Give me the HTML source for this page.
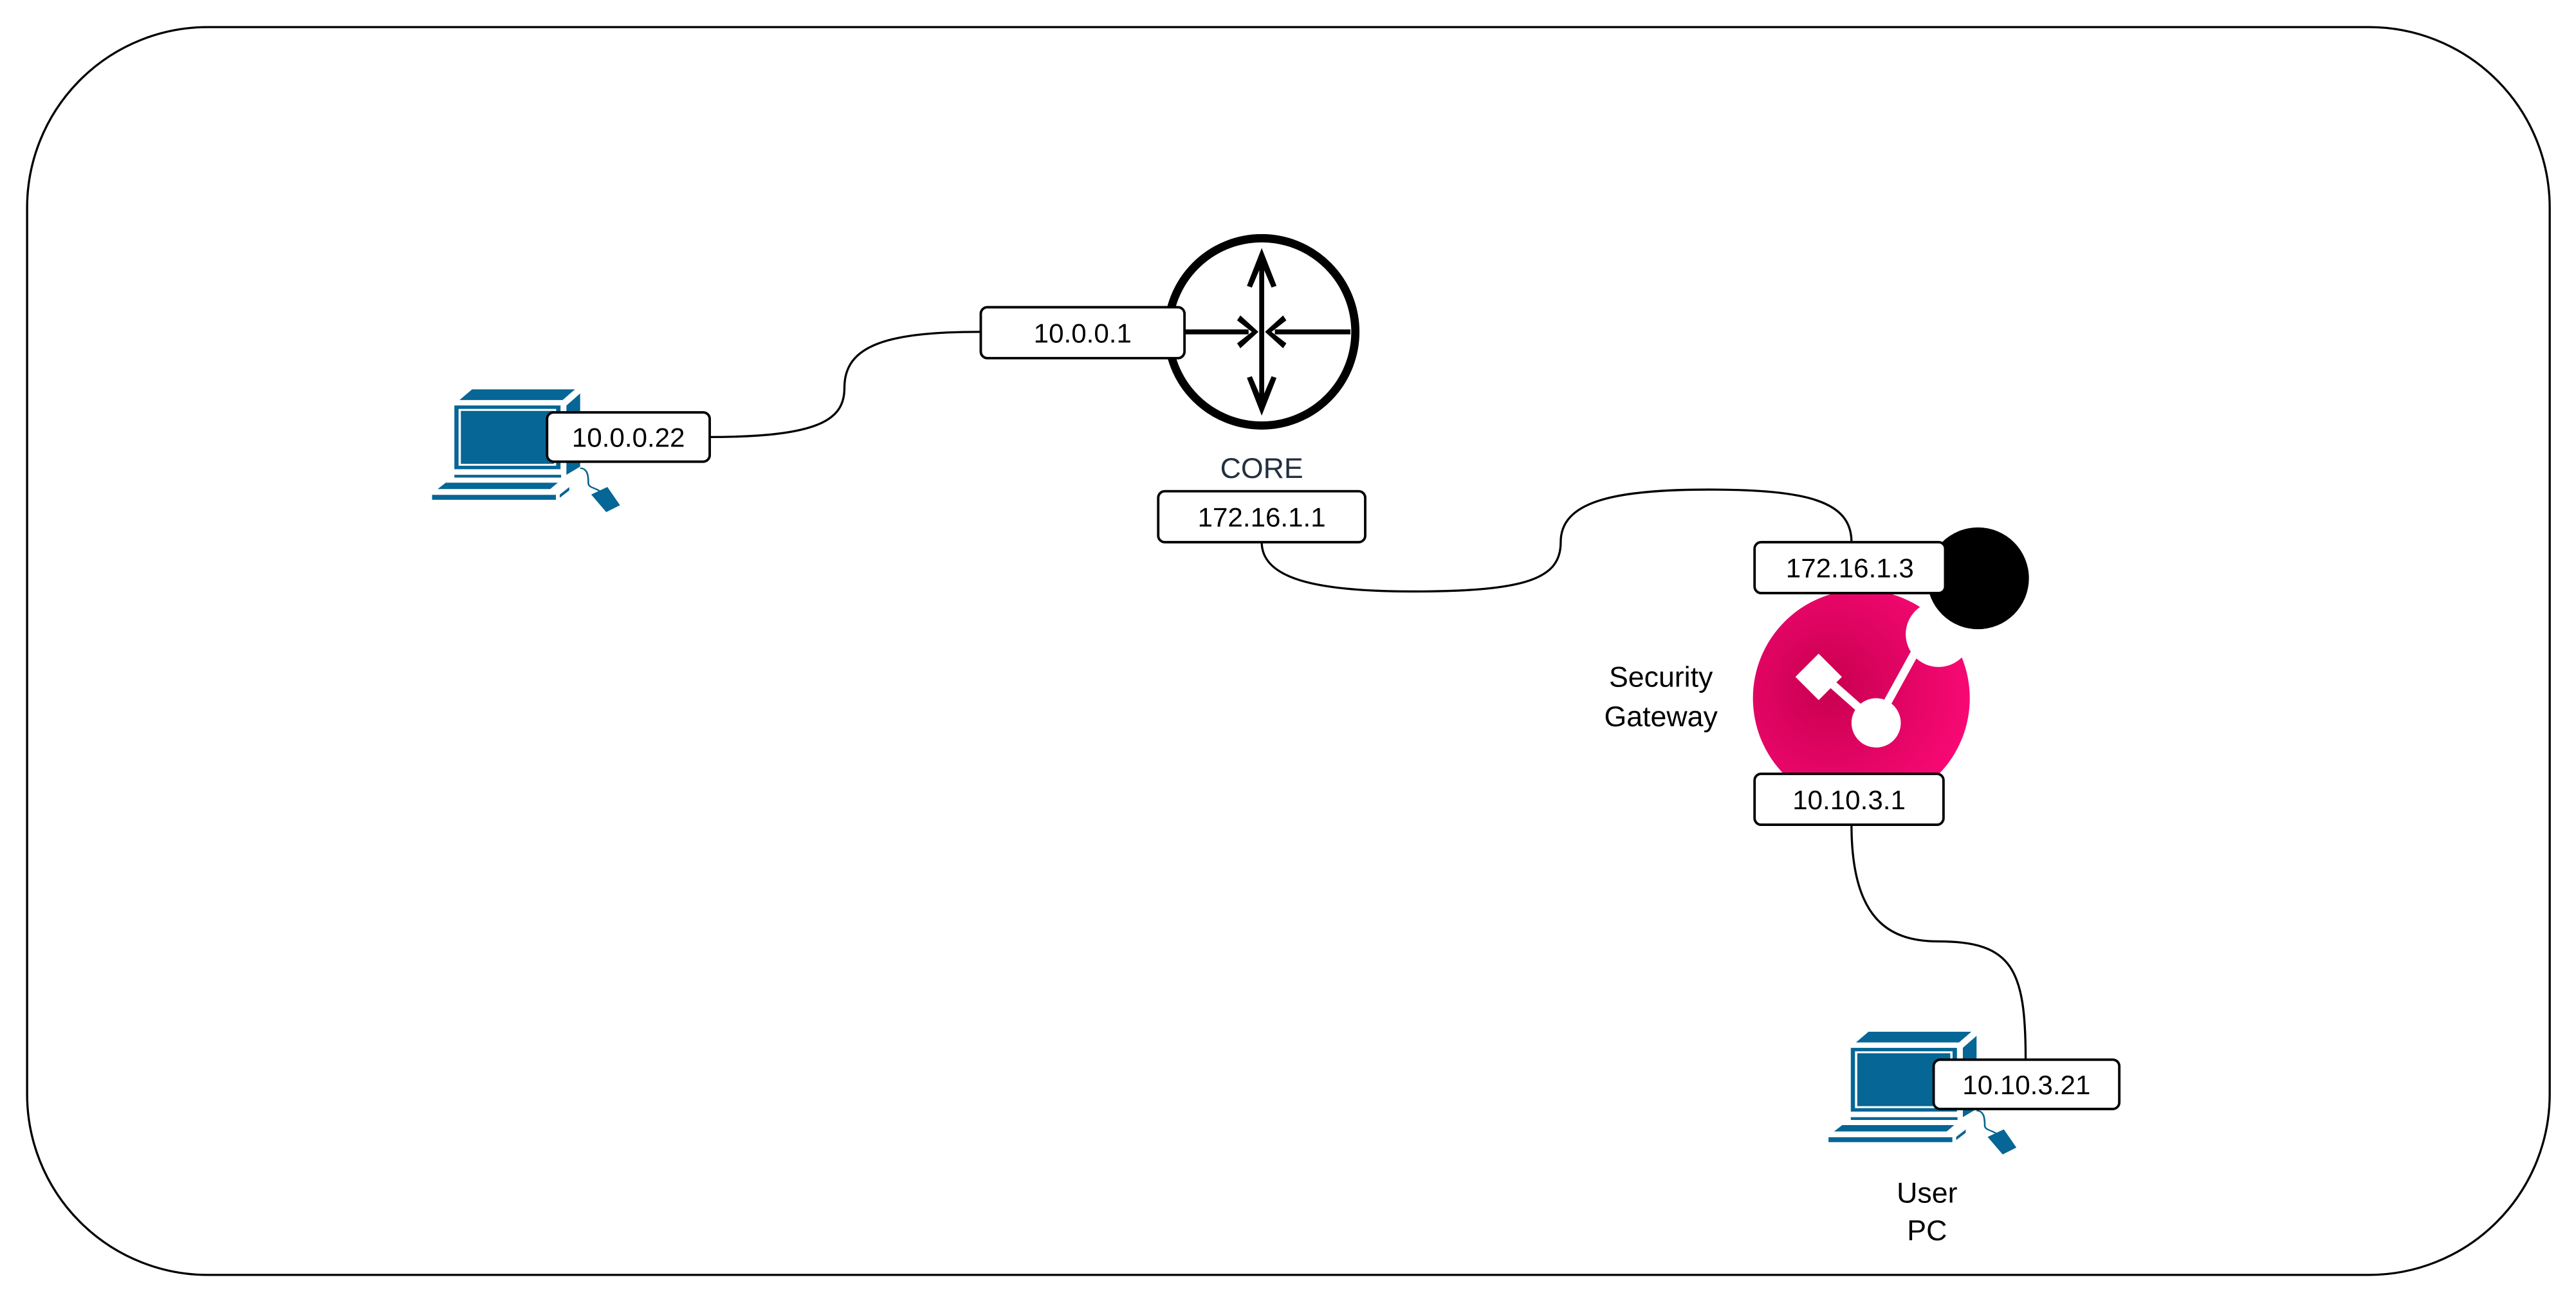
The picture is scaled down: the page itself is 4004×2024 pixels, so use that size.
<!DOCTYPE html>
<html><head><meta charset="utf-8"><style>
html,body{margin:0;padding:0;background:#fff;}
svg{display:block;}
text{font-family:"Liberation Sans",Arial,sans-serif;}
</style></head><body>
<svg width="4004" height="2024" viewBox="0 0 1568 792.5" preserveAspectRatio="none" xmlns="http://www.w3.org/2000/svg">
<defs>
<radialGradient id="pg" cx="0.35" cy="0.45" r="0.75">
<stop offset="0" stop-color="#C8004F"/>
<stop offset="1" stop-color="#FF0A7A"/>
</radialGradient>
<g id="pc">
<polygon points="21,0 75,0 68.5,6.5 14.4,6.5" fill="#066695"/>
<polygon points="70.5,9.8 77.7,2.5 77.7,47 70.5,52" fill="#066695"/>
<rect x="11.7" y="9.8" width="55.7" height="38.8" fill="#066695"/>
<rect x="14.5" y="12.5" width="50" height="33.4" fill="none" stroke="#fff" stroke-width="1.2"/>
<rect x="17" y="14.8" width="45" height="29" fill="#066695"/>
<rect x="11.7" y="52" width="56" height="1.7" fill="#066695"/>
<polygon points="7.2,56.8 66,56.8 62,60.7 2.9,60.7" fill="#066695"/>
<rect x="0" y="64.2" width="65" height="3" fill="#066695"/>
<polygon points="67,64 72,59.5 72,61.5 67,66" fill="#066695"/>
<path d="M77.7,48 C82,48 82,54 82,57 C82,60 86,60 88,62" fill="none" stroke="#066695" stroke-width="0.9"/>
<polygon points="83.5,64 92,59.4 98.6,70.5 91.4,74.7" fill="#066695"/>
</g>
</defs>
<rect x="16.5" y="16.5" width="1535.5" height="759.5" rx="110" ry="110" fill="none" stroke="#000" stroke-width="1.3"/>

<g fill="none" stroke="#000" stroke-width="1.3">
<path d="M432 266 C500 266 514 255 514 236 C514 210 540 202 597 202"/>
<path d="M768 330 C768 352 800 360 860 360 C930 360 950 352 950 330 C950 306 980 298 1040 298 C1100 298 1127 305 1127 330"/>
<path d="M1127 502 C1127 560 1150 573 1180 573 C1225 573 1233 590 1233 645"/>
</g>

<circle cx="768" cy="202" r="57" fill="#fff" stroke="#000" stroke-width="5"/>
<g stroke="#000" stroke-width="3" fill="none">
<line x1="768" y1="155" x2="768" y2="249"/>
<line x1="721" y1="202" x2="760" y2="202"/>
<line x1="776" y1="202" x2="822" y2="202"/>
</g>
<g fill="#000">
<polygon points="768,151 777,174 774,175 768,161 762,175 759,174"/>
<polygon points="768,253 777,230 774,229 768,243 762,229 759,230"/>
<polygon points="766,202 755,192 753,195 762,202 753,209 755,212"/>
<polygon points="770,202 781,192 783,195 774,202 783,209 781,212"/>
</g>

<use href="#pc" transform="translate(263,237) scale(1.16,1)"/>
<use href="#pc" transform="translate(1113,628) scale(1.16,1)"/>

<circle cx="1133" cy="425" r="66" fill="url(#pg)"/>
<circle cx="1180" cy="386" r="20" fill="#fff"/>
<line x1="1142" y1="440" x2="1174" y2="382" stroke="#fff" stroke-width="5"/>
<line x1="1142" y1="440" x2="1108" y2="410" stroke="#fff" stroke-width="5"/>
<circle cx="1142" cy="440" r="15" fill="#fff"/>
<rect x="1097" y="402" width="20" height="20" fill="#fff" transform="rotate(45 1107 412)"/>
<circle cx="1204" cy="352" r="31" fill="#000"/>

<g fill="#fff" stroke="#000" stroke-width="1.5">
<rect x="597" y="187" width="124" height="31" rx="4"/>
<rect x="705" y="299" width="126" height="31" rx="4"/>
<rect x="333" y="251" width="99" height="30" rx="4"/>
<rect x="1068" y="330" width="116" height="31" rx="4"/>
<rect x="1068" y="471" width="115" height="31" rx="4"/>
<rect x="1177" y="645" width="113" height="30" rx="4"/>
</g>
<g font-size="16.5" text-anchor="middle" fill="#000">
<text x="659" y="208.5">10.0.0.1</text>
<text x="768" y="320.5">172.16.1.1</text>
<text x="382.5" y="272">10.0.0.22</text>
<text x="1126" y="351.5">172.16.1.3</text>
<text x="1125.5" y="492.5">10.10.3.1</text>
<text x="1233.5" y="666">10.10.3.21</text>
</g>
<g font-size="17.5" text-anchor="middle">
<text x="768" y="291" fill="#232F3E">CORE</text>
<text x="1011" y="418">Security</text>
<text x="1011" y="442">Gateway</text>
<text x="1173" y="732">User</text>
<text x="1173" y="755">PC</text>
</g>
</svg>
</body></html>
